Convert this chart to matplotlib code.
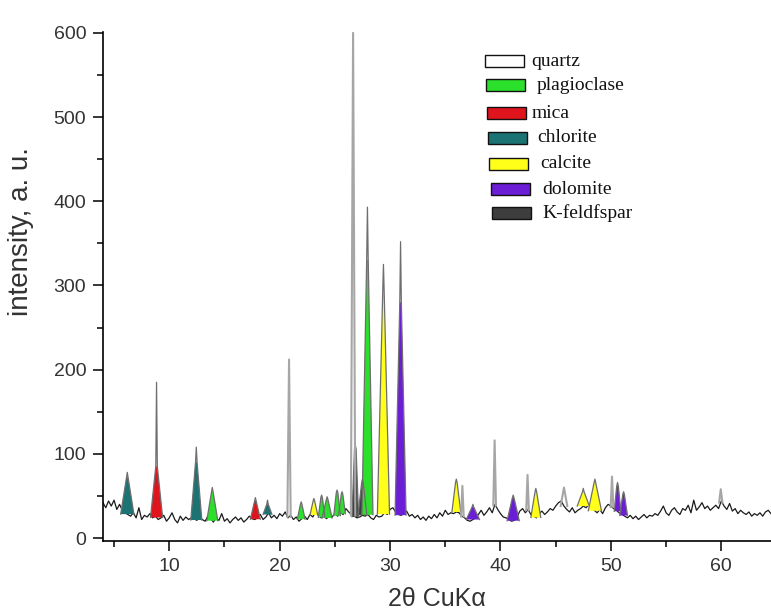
import numpy as np
import matplotlib

matplotlib.use("Agg")
import matplotlib.pyplot as plt
from matplotlib.patches import Rectangle
from matplotlib.ticker import MultipleLocator

plt.rcParams["font.family"] = ["Liberation Sans", "DejaVu Sans"]

# noisy background, one value every 0.25 deg from 4.0 to 64.5
baseline = [
    42, 36, 44, 38, 45, 34, 40, 33, 30,
    28, 26, 30, 24, 36, 22, 27, 25,
    29, 24, 26, 22, 24, 27, 20, 24,
    30, 22, 18, 26, 21, 25, 22, 24,
    23, 21, 25, 22, 20, 26, 23, 19,
    24, 21, 29, 20, 23, 18, 22, 25,
    21, 24, 19, 22, 26, 23, 22, 24,
    28, 22, 25, 30, 24, 27, 23, 29,
    26, 31, 24, 27, 22, 25, 20, 23,
    26, 22, 28, 25, 31, 27, 24, 26,
    23, 27, 25, 29, 26, 30, 28, 35,
    31, 28, 26, 24, 25, 27, 26, 28,
    24, 22, 27, 25, 26, 30, 28, 34,
    36, 31, 28, 27, 29, 32, 26, 28,
    24, 27, 22, 25, 21, 26, 23, 28,
    24, 30, 26, 33, 28, 30, 29, 31,
    30, 26, 24, 21, 20, 22, 24, 28,
    33, 27, 31, 36, 30, 40, 34, 29,
    25, 24, 22, 20, 21, 25, 32, 35,
    30, 34, 28, 26, 24, 29, 32, 28,
    31, 35, 33, 38, 42, 44, 38, 34,
    31, 36, 30, 33, 35, 38, 36, 40,
    38, 33, 30, 34, 29, 36, 40, 38,
    35, 33, 30, 28, 26, 24, 27, 23,
    26, 22, 25, 28, 24, 27, 26, 29,
    27, 32, 38, 30, 27, 33, 36, 31,
    28, 35, 33, 39, 30, 45, 33, 37,
    42, 35, 38, 33, 36, 39, 35, 44,
    38, 34, 41, 32, 35, 29, 33, 30,
    28, 31, 26, 29, 27, 30, 26, 31,
    33, 29,
]
base_start, base_stop = 4.0, 64.5

# identified reflections: position (2theta), half width at foot, line top, coloured fill top
peak_pos = [6.2, 8.85, 12.45, 13.9, 17.8, 18.9, 20.85, 21.95, 23.1, 23.8, 24.3,
            25.2, 25.65, 26.65, 26.85, 27.5, 27.95, 29.4, 30.95, 36.0, 36.55,
            37.5, 39.47, 41.15, 42.45, 43.2, 45.75, 47.5, 48.55, 50.1, 50.6,
            51.15, 59.95]
peak_half = [0.6, 0.55, 0.5, 0.5, 0.45, 0.4, 0.15, 0.35, 0.35, 0.3, 0.45,
             0.3, 0.3, 0.2, 0.3, 0.4, 0.5, 0.55, 0.5, 0.4, 0.12,
             0.6, 0.12, 0.55, 0.12, 0.45, 0.3, 0.55, 0.6, 0.12, 0.3,
             0.35, 0.15]
peak_top = [78, 185, 108, 60, 48, 45, 212, 43, 47, 51, 49,
            57, 55, 600, 110, 70, 393, 325, 352, 70, 62,
            40, 116, 51, 75, 59, 60, 59, 70, 73, 66,
            55, 58]
peak_fill = [72, 85, 90, 55, 44, 40, 0, 40, 44, 48, 46,
             54, 52, 0, 106, 66, 330, 290, 280, 66, 0,
             37, 0, 48, 0, 55, 0, 55, 66, 0, 62,
             52, 0]
peak_phase = ["chlorite", "mica", "chlorite", "plagioclase", "mica", "chlorite",
              "quartz", "plagioclase", "calcite", "plagioclase", "plagioclase",
              "plagioclase", "plagioclase", "quartz", "K-feldfspar", "K-feldfspar",
              "plagioclase", "calcite", "dolomite", "calcite", "quartz",
              "dolomite", "quartz", "dolomite", "quartz", "calcite", "quartz",
              "calcite", "calcite", "quartz", "dolomite", "dolomite", "quartz"]

phases = ["quartz", "plagioclase", "mica", "chlorite", "calcite", "dolomite", "K-feldfspar"]
phase_colors = {
    "quartz": "#ffffff",
    "plagioclase": "#2be02b",
    "mica": "#e0141c",
    "chlorite": "#1b7373",
    "calcite": "#ffff1a",
    "dolomite": "#6b1ed6",
    "K-feldfspar": "#3d3d3d",
}

W, H = 771, 613
fig = plt.figure(figsize=(W / 100, H / 100), dpi=100)
ax = fig.add_axes([103 / W, (H - 541) / H, (W - 103) / W, (541 - 32) / H])

base_x = np.linspace(base_start, base_stop, len(baseline))
ax.plot(base_x, baseline, color="#1a1a1a", lw=0.9, zorder=2)

for c, w, top, fill, phase in zip(peak_pos, peak_half, peak_top, peak_fill, peak_phase):
    b = np.interp(c, base_x, baseline)
    if phase == "quartz":
        ax.plot([c - w, c, c + w], [b, top, b], color="#a6a6a6", lw=1.5, zorder=5)
        continue
    tip = 0.07
    ax.fill([c - w, c - tip, c + tip, c + w], [b, fill, fill, b],
            color=phase_colors[phase], lw=0, zorder=3)
    ax.plot([c - w, c - tip, c, c + tip, c + w], [b, fill, top, fill, b],
            color="#6e6e6e", lw=0.9, zorder=4)

ax.set_xlim(base_start, base_stop)
ax.set_ylim(-3.5, 601)
ax.xaxis.set_major_locator(MultipleLocator(10))
ax.xaxis.set_minor_locator(MultipleLocator(5))
ax.yaxis.set_major_locator(MultipleLocator(100))
ax.yaxis.set_minor_locator(MultipleLocator(50))
ax.tick_params(which="major", direction="out", length=7, width=1.1, pad=5,
               labelsize=14, labelcolor="#333333")
ax.tick_params(which="minor", direction="out", length=4, width=1.1)
for side in ("top", "right"):
    ax.spines[side].set_visible(False)
for side in ("left", "bottom"):
    ax.spines[side].set_linewidth(1.2)

ax.set_xlabel("2θ CuKα", fontsize=18, color="#333333", labelpad=9)
ax.set_ylabel("intensity, a. u.", fontsize=20, color="#333333")
ax.yaxis.set_label_coords(-0.104, 0.607)

# hand-drawn legend boxes, positions in pixels of the original figure
legend_boxes = [(485, 55), (486, 79), (487, 107), (488, 132), (489, 158), (491, 183), (492, 207)]
legend_text_x = [531, 537, 532, 537, 540, 542, 542]
for phase, (bx, by), tx in zip(phases, legend_boxes, legend_text_x):
    fig.patches.append(Rectangle((bx / W, 1 - (by + 12) / H), 39 / W, 12 / H,
                                 transform=fig.transFigure, facecolor=phase_colors[phase],
                                 edgecolor="#111111", lw=1.0))
    fig.text(tx / W, 1 - (by + 6) / H, phase, family="Liberation Serif",
             fontsize=14, va="center", ha="left", color="#111111")

fig.savefig("out.png", dpi=100, facecolor="white")
